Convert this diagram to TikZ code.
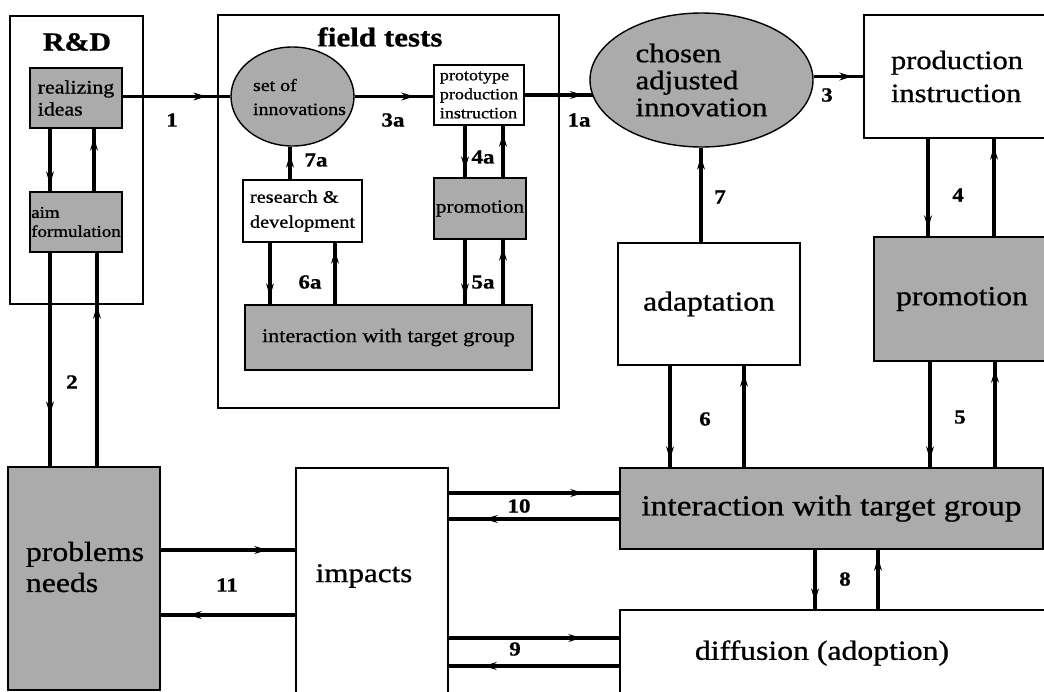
\documentclass[tikz,border=0pt]{standalone}
\usepackage{fontspec}
\setmainfont{Liberation Serif}[FakeStretch=1.15,FakeBold=0.9]
\usetikzlibrary{decorations.markings,arrows.meta,shapes.geometric}
\newcommand{\fz}[2]{\fontsize{#1}{#2}\selectfont}
\tikzset{
  box/.style={draw, line width=1.5pt, rectangle, inner sep=0pt, align=left},
  gbox/.style={box, fill=black!33},
  cont/.style={draw, line width=1.1pt, rectangle, inner sep=0pt},
  gell/.style={draw, line width=1.4pt, ellipse, fill=black!33, inner sep=0pt},
  txt/.style={inner sep=0pt, align=left},
  num/.style={inner sep=0pt, font=\fz{20}{20}\bfseries},
  fl/.style={line width=3.3pt, postaction={decorate},
    decoration={markings, mark=at position -#1 with {\arrow[line width=0.8pt]{Stealth[length=13pt,width=8pt]}}}},
  fl/.default=10pt
}
\begin{document}
\begin{tikzpicture}[x=1pt,y=-1pt]
\useasboundingbox (0,0) rectangle (1044,691);
\fill[white] (0,0) rectangle (1044,691);
\clip (0,0) rectangle (1044,691);

% R&D container
\node[cont, minimum width=133pt, minimum height=288pt] (rd) at (76.5,160) {};
\node[inner sep=0pt, font=\fz{26}{26}\bfseries] (rdt) at (77,42) {R\&D};
\node[gbox, minimum width=92pt, minimum height=60pt, font=\fz{19}{22}] (ri) at (76,98) {realizing\\ideas};
\node[gbox, minimum width=92pt, minimum height=60pt, font=\fz{16.5}{19}] (af) at (76,222) {aim\\formulation};

% field tests container
\node[cont, minimum width=341pt, minimum height=393pt] (ft) at (388.5,211.5) {};
\node[inner sep=0pt, font=\fz{27}{27}\bfseries] (ftt) at (380,37) {field tests};
\node[gell, minimum width=123pt, minimum height=99pt] (si) at (292.5,96.5) {};
\node[txt, font=\fz{17.3}{24}] (sit) at (299.5,97) {set of\\innovations};
\node[box, minimum width=90pt, minimum height=60pt, font=\fz{15.7}{19}] (pp) at (479,95) {prototype\\production\\instruction};
\node[box, minimum width=119pt, minimum height=62pt, font=\fz{17.7}{25}] (rdv) at (302.5,211) {research \&\\development};
\node[gbox, minimum width=92pt, minimum height=61pt, font=\fz{18.4}{20}] (sp) at (480,208.5) {promotion};
\node[gbox, minimum width=287pt, minimum height=65pt, font=\fz{19.3}{20}] (si2) at (388.5,337.5) {interaction with target group};

% right part
\node[gell, minimum width=223pt, minimum height=134pt, align=left, font=\fz{26.8}{27}] (ca) at (701.5,80) {chosen\\adjusted\\innovation};
\node[box, minimum width=186pt, minimum height=123pt, font=\fz{26.5}{33}] (pi) at (957,76.5) {production\\instruction};
\node[box, minimum width=182pt, minimum height=122pt, font=\fz{27.5}{28}] (ad) at (709,304) {adaptation};
\node[gbox, minimum width=176pt, minimum height=124pt, font=\fz{27.5}{28}] (bp) at (962,299) {promotion};
\node[gbox, minimum width=423pt, minimum height=81pt, font=\fz{29}{30}] (bi) at (831.5,508.5) {interaction with target group};
\node[box, minimum width=440pt, minimum height=90pt] (df) at (840,655) {};
\node[txt, font=\fz{27.6}{28}] (dft) at (822,653) {diffusion (adoption)};

% bottom left
\node[gbox, minimum width=152pt, minimum height=223pt] (pn) at (84,578.5) {};
\node[txt, font=\fz{27.6}{31}] (pnt) at (85,567) {problems\\needs};
\node[box, minimum width=152pt, minimum height=252pt] (im) at (372,594) {};
\node[txt, font=\fz{27}{28}] (imt) at (364,576) {impacts};

% connectors R&D
\draw[fl=7pt] ([xshift=-26pt]ri.south) -- ([xshift=-26pt]ri.south |- af.north);
\draw[fl=9pt] ([xshift=18pt]af.north) -- ([xshift=18pt]af.north |- ri.south);
\draw[fl=52pt] ([xshift=-26pt]af.south) -- ([xshift=-26pt]af.south |- pn.north);
\draw[fl=53pt] ([xshift=21pt]af.south |- pn.north) -- ([xshift=21pt]af.south);
\draw[fl=24pt] (ri.east |- si.west) -- (si.west);

% connectors field tests
\draw[fl=19pt] (si.east) -- (si.east -| pp.west);
\draw[fl=10pt] (pp.east) -- (pp.east -| ca.189);
\draw[fl=8pt] ([xshift=-12.5pt]rdv.north) -- ([xshift=-12.5pt]rdv.north |- si.south);
\draw[fl=8pt] ([xshift=-14pt]pp.south) -- ([xshift=-14pt]pp.south |- sp.north);
\draw[fl=8pt] ([xshift=24pt]pp.south |- sp.north) -- ([xshift=24pt]pp.south);
\draw[fl=8pt] ([xshift=-15pt]sp.south) -- ([xshift=-15pt]sp.south |- si2.north);
\draw[fl=8pt] ([xshift=23pt]sp.south |- si2.north) -- ([xshift=23pt]sp.south);
\draw[fl=8pt] ([xshift=-32.5pt]rdv.south) -- ([xshift=-32.5pt]rdv.south |- si2.north);
\draw[fl=8pt] ([xshift=32.5pt]rdv.south |- si2.north) -- ([xshift=32.5pt]rdv.south);

% connectors right
\draw[fl=11pt] (ca.east |- pi.west) -- (pi.west);
\draw[fl=9pt] ([xshift=-8pt]ad.north) -- ([xshift=-8pt]ad.north |- ca.south);
\draw[fl=8pt] ([xshift=-29pt]pi.south) -- ([xshift=-29pt]pi.south |- bp.north);
\draw[fl=8pt] ([xshift=37pt]pi.south |- bp.north) -- ([xshift=37pt]pi.south);
\draw[fl=8pt] ([xshift=-32pt]bp.south) -- ([xshift=-32pt]bp.south |- bi.north);
\draw[fl=8pt] ([xshift=33pt]bp.south |- bi.north) -- ([xshift=33pt]bp.south);
\draw[fl=8pt] ([xshift=-39pt]ad.south) -- ([xshift=-39pt]ad.south |- bi.north);
\draw[fl=8pt] ([xshift=35pt]ad.south |- bi.north) -- ([xshift=35pt]ad.south);
\draw[fl=8pt] ([xshift=-16.5pt]bi.south) -- ([xshift=-16.5pt]bi.south |- df.north);
\draw[fl=8pt] ([xshift=46.5pt]bi.south |- df.north) -- ([xshift=46.5pt]bi.south);

% horizontal connectors bottom
\draw[fl=36pt] ([yshift=15.5pt]bi.west -| im.east) -- ([yshift=15.5pt]bi.west);
\draw[fl=36pt] ([yshift=-10.5pt]bi.west) -- ([yshift=-10.5pt]bi.west -| im.east);
\draw[fl=38pt] ([yshift=17pt]df.west -| im.east) -- ([yshift=17pt]df.west);
\draw[fl=35pt] ([yshift=-11pt]df.west) -- ([yshift=-11pt]df.west -| im.east);
\draw[fl=28pt] ([yshift=28.5pt]pn.east) -- ([yshift=28.5pt]pn.east -| im.west);
\draw[fl=28pt] ([yshift=-36.5pt]pn.east -| im.west) -- ([yshift=-36.5pt]pn.east);

% labels
\node[num] (n1) at (172,120) {1};
\node[num] (n2) at (72,382) {2};
\node[num] (n3a) at (393,120) {3a};
\node[num] (n1a) at (579,120) {1a};
\node[num] (n7a) at (316,160) {7a};
\node[num] (n4a) at (483,157) {4a};
\node[num] (n6a) at (310,282) {6a};
\node[num] (n5a) at (483,282) {5a};
\node[num] (n3) at (827,95) {3};
\node[num] (n4) at (958,195) {4};
\node[num] (n7) at (720,197) {7};
\node[num] (n6) at (705,419) {6};
\node[num] (n5) at (960,417) {5};
\node[num] (n8) at (845,579) {8};
\node[num] (n10) at (519,506) {10};
\node[num] (n9) at (515,649) {9};
\node[num] (n11) at (227,585) {11};
\end{tikzpicture}
\end{document}
